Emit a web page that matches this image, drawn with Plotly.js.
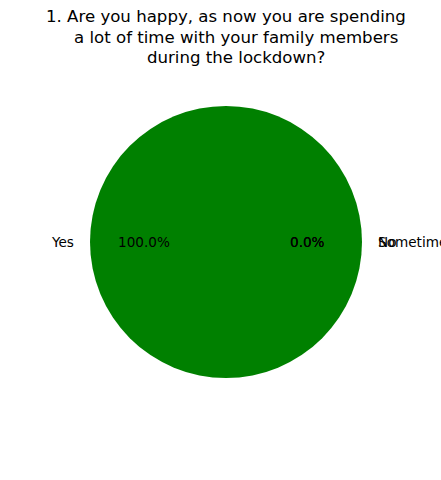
<!DOCTYPE html>
<html>
<head>
<meta charset="utf-8">
<script src="https://cdn.plot.ly/plotly-3.0.1.min.js"></script>
<style>html,body{margin:0;padding:0;background:#fff;}#chart{width:441px;height:480px;}</style>
</head>
<body>
<div id="chart"></div>
<script>
const categories = ["Yes", "No", "Sometimes"];
const values = [100, 0, 0];
const sliceColors = ["#008000", "#ff0000", "#0000ff"];
const titleLines = ["1. Are you happy, as now you are spending", "a lot of time with your family members", "during the lockdown?"];

const W = 441, H = 480;
const cx = 226, cy = 242, R = 136;
const total = values.reduce((a, b) => a + b, 0);

const annotations = [];
let start = 0;
values.forEach((v, i) => {
  const frac = v / total;
  const mid = (start + frac / 2) * 2 * Math.PI;
  start += frac;
  const c = Math.cos(mid), s = Math.sin(mid);
  const lx = cx + 1.1 * R * c, ly = cy - 1.1 * R * s;
  const px = cx + 0.6 * R * c, py = cy - 0.6 * R * s;
  annotations.push({
    x: lx / W, y: 1 - ly / H, xref: "paper", yref: "paper",
    text: categories[i], showarrow: false,
    xanchor: c < 0 ? "right" : "left", yanchor: "middle",
    font: {family: "DejaVu Sans", size: 13.6, color: "#000"}
  });
  annotations.push({
    x: px / W, y: 1 - py / H, xref: "paper", yref: "paper",
    text: (frac * 100).toFixed(1) + "%", showarrow: false,
    xanchor: "center", yanchor: "middle",
    font: {family: "DejaVu Sans", size: 13.6, color: "#000"}
  });
});

const titleX = [226, 236, 236];
const titleY = [17, 37, 57];
titleLines.forEach((t, i) => {
  annotations.push({
    x: titleX[i] / W, y: 1 - titleY[i] / H, xref: "paper", yref: "paper",
    text: t, showarrow: false, xanchor: "center", yanchor: "middle",
    font: {family: "DejaVu Sans", size: 16.6, color: "#000"}
  });
});

const data = [{
  type: "pie",
  labels: categories,
  values: values,
  sort: false,
  direction: "counterclockwise",
  rotation: 90,
  marker: {colors: sliceColors, line: {width: 0}},
  textinfo: "none",
  hoverinfo: "none",
  showlegend: false,
  domain: {x: [(cx - R) / W, (cx + R) / W], y: [1 - (cy + R) / H, 1 - (cy - R) / H]}
}];

const layout = {
  width: W, height: H,
  margin: {l: 0, r: 0, t: 0, b: 0},
  paper_bgcolor: "#fff",
  showlegend: false,
  annotations: annotations
};

Plotly.newPlot("chart", data, layout, {staticPlot: true, displayModeBar: false});
</script>
</body>
</html>
